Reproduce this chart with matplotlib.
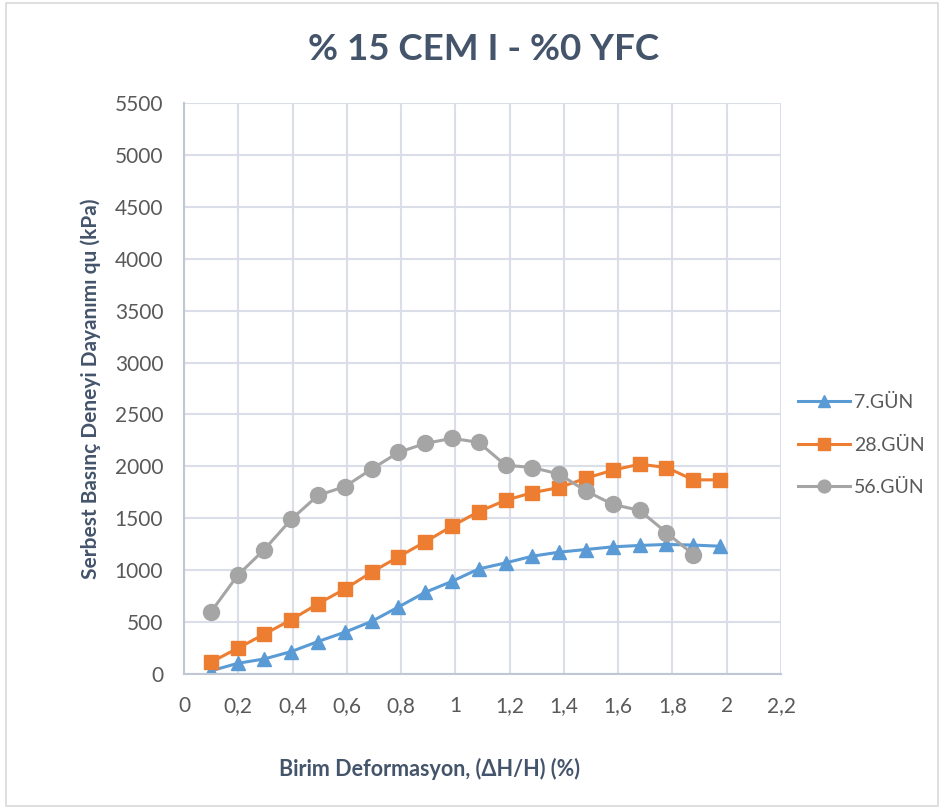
import matplotlib.pyplot as plt
from matplotlib.ticker import FuncFormatter

plt.rcParams['font.family'] = ['Lato', 'DejaVu Sans']

# Birim deformasyon (%) and qu (kPa) for each curing age
strain = [0.099, 0.198, 0.296, 0.395, 0.494, 0.593, 0.691, 0.790, 0.889, 0.988,
          1.086, 1.185, 1.284, 1.383, 1.481, 1.580, 1.679, 1.778, 1.877, 1.975]
qu_7 = [30, 103, 145, 216, 313, 403, 506, 645, 787, 893,
        1012, 1070, 1135, 1174, 1199, 1225, 1238, 1248, 1242, 1231]
qu_28 = [113, 248, 384, 522, 677, 819, 980, 1128, 1273, 1425,
         1564, 1673, 1747, 1796, 1886, 1963, 2021, 1989, 1870, 1870]
qu_56 = [597, 951, 1199, 1489, 1721, 1805, 1973, 2134, 2221, 2270,
         2231, 2011, 1989, 1925, 1763, 1634, 1576, 1361, 1151]

labels = ['7.GÜN', '28.GÜN', '56.GÜN']
colors = ['#5B9BD5', '#ED7D31', '#A5A5A5']
text_dark = '#44546A'
tick_grey = '#595959'

fig = plt.figure(figsize=(9.44, 8.09), dpi=100)
ax = fig.add_axes([184 / 944, 1 - 674 / 809, (781 - 184) / 944, (674 - 103) / 809])

ax.plot(strain, qu_7, color=colors[0], lw=2.2, marker='^', ms=10, label=labels[0])
ax.plot(strain, qu_28, color=colors[1], lw=2.2, marker='s', ms=10.5, label=labels[1])
ax.plot(strain[:len(qu_56)], qu_56, color=colors[2], lw=2.2, marker='o', ms=11.5, label=labels[2])

ax.set_xlim(0, 2.2)
ax.set_ylim(0, 5500)
ax.set_xticks([i * 0.2 for i in range(12)])
ax.set_yticks(range(0, 5501, 500))
ax.xaxis.set_major_formatter(FuncFormatter(lambda v, p: f'{v:.1f}'.rstrip('0').rstrip('.').replace('.', ',')))
ax.tick_params(length=0, labelsize=15, colors=tick_grey)
ax.tick_params(axis='y', pad=15)
ax.tick_params(axis='x', pad=16)
ax.grid(True, color='#D9DEE8', lw=1.5)
ax.set_axisbelow(True)
for side in ['top', 'right']:
    ax.spines[side].set_visible(False)
for side in ['left', 'bottom']:
    ax.spines[side].set_color('#BFC6D4')
    ax.spines[side].set_linewidth(1.5)

ax.set_xlabel('Birim Deformasyon, (ΔH/H) (%)', fontsize=15.5, fontweight='bold',
              color=text_dark, labelpad=30, x=(429 - 184) / 597)
ax.set_ylabel('Serbest Basınç Deneyi Dayanımı qu (kPa)', fontsize=15, fontweight='bold',
              color=text_dark, labelpad=10)
fig.text(484 / 944, 1 - 50 / 809, '% 15 CEM I - %0 YFC', ha='center', va='center',
         fontsize=26.5, fontweight='bold', color=text_dark)

leg = fig.legend(loc='center left', bbox_to_anchor=(780 / 944, 1 - 445 / 809),
                 frameon=False, fontsize=14, labelcolor=tick_grey,
                 handlelength=2.7, handletextpad=0.2, labelspacing=1.3, markerscale=0.8)

# outer chart border
fig.patches.append(plt.Rectangle((0.006, 0.004), 0.988, 0.992, transform=fig.transFigure,
                                 fill=False, edgecolor='#D9D9D9', lw=1.2))

fig.savefig('out.png', dpi=100)
